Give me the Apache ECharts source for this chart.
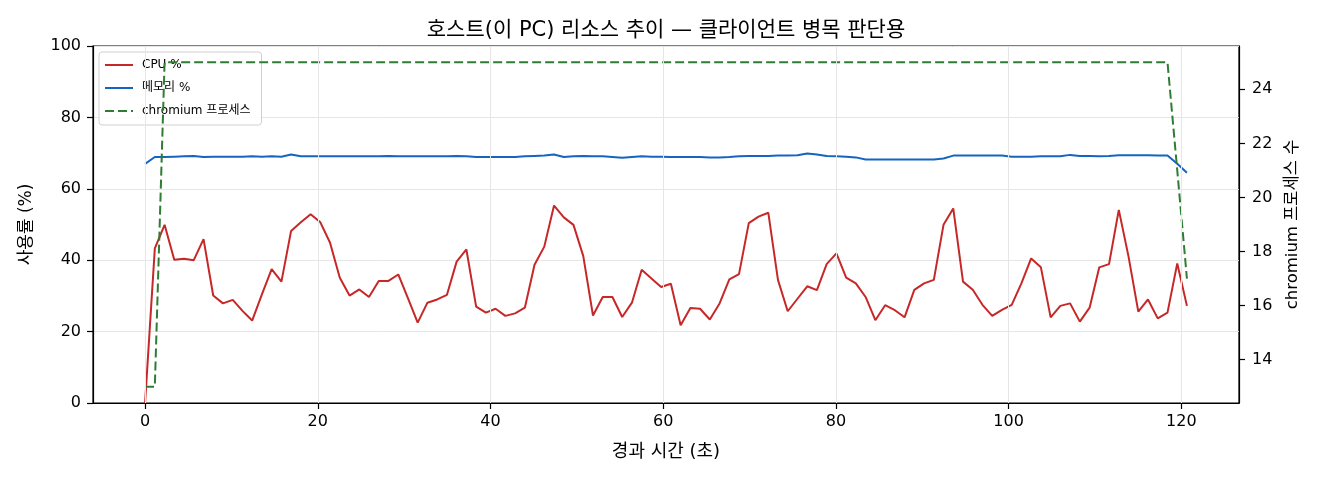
<!DOCTYPE html>
<html>
<head>
<meta charset="utf-8">
<script src="https://cdn.jsdelivr.net/npm/echarts@6/dist/echarts.min.js"></script>
<style>
html,body{margin:0;padding:0;background:#fff;}
#c{width:1320px;height:480px;}
</style>
</head>
<body>
<div id="c"></div>
<script>
// elapsed time (s)
const timeSec = [0, 1.13, 2.26, 3.38, 4.51, 5.64, 6.77, 7.89, 9.02, 10.15,
  11.28, 12.40, 13.53, 14.66, 15.79, 16.91, 18.04, 19.17, 20.30, 21.42,
  22.55, 23.68, 24.81, 25.93, 27.06, 28.19, 29.32, 30.45, 31.57, 32.70,
  33.83, 34.96, 36.08, 37.21, 38.34, 39.47, 40.59, 41.72, 42.85, 43.98,
  45.10, 46.23, 47.36, 48.49, 49.61, 50.74, 51.87, 53.00, 54.12, 55.25,
  56.38, 57.51, 58.64, 59.76, 60.89, 62.02, 63.15, 64.27, 65.40, 66.53,
  67.66, 68.78, 69.91, 71.04, 72.17, 73.29, 74.42, 75.55, 76.68, 77.80,
  78.93, 80.06, 81.19, 82.31, 83.44, 84.57, 85.70, 86.83, 87.95, 89.08,
  90.21, 91.34, 92.46, 93.59, 94.72, 95.85, 96.97, 98.10, 99.23, 100.36,
  101.48, 102.61, 103.74, 104.87, 105.99, 107.12, 108.25, 109.38, 110.50, 111.63,
  112.76, 113.89, 115.02, 116.14, 117.27, 118.40, 119.53, 120.65];

// CPU %
const cpuPct = [0, 43.3, 49.9, 40.1, 40.4, 40.0, 45.9, 30.1, 27.9, 28.9,
  25.8, 23.1, 30.4, 37.5, 34.0, 48.2, 50.6, 52.9, 50.6, 44.9,
  35.1, 30.1, 31.8, 29.7, 34.2, 34.2, 36.0, 29.3, 22.5, 28.1,
  29.0, 30.3, 39.6, 43.0, 27.0, 25.3, 26.4, 24.4, 25.1, 26.7,
  38.7, 43.8, 55.3, 52.0, 49.9, 41.2, 24.5, 29.7, 29.7, 24.1,
  28.1, 37.3, 34.9, 32.5, 33.4, 21.8, 26.6, 26.4, 23.4, 27.9,
  34.6, 36.1, 50.4, 52.2, 53.3, 34.5, 25.7, 29.2, 32.7, 31.6,
  38.9, 41.9, 35.1, 33.5, 29.7, 23.2, 27.4, 26.0, 24.0, 31.7,
  33.5, 34.5, 49.9, 54.5, 34.0, 31.7, 27.5, 24.4, 26.1, 27.5,
  33.5, 40.5, 38.0, 24.0, 27.2, 27.9, 22.8, 26.7, 38.0, 38.9,
  54.1, 41.0, 25.6, 29.0, 23.7, 25.3, 39.1, 27.2];

// memory %
const memPct = [67.0, 68.9, 68.9, 69.0, 69.1, 69.2, 68.9, 69.0, 69.0, 69.0,
  69.0, 69.1, 69.0, 69.1, 69.0, 69.6, 69.1, 69.1, 69.1, 69.1,
  69.1, 69.1, 69.1, 69.1, 69.1, 69.2, 69.1, 69.1, 69.1, 69.1,
  69.1, 69.1, 69.2, 69.1, 68.9, 68.9, 68.9, 68.9, 68.9, 69.1,
  69.2, 69.3, 69.6, 68.9, 69.1, 69.2, 69.1, 69.1, 68.9, 68.7,
  68.9, 69.1, 69.0, 69.0, 68.9, 68.9, 68.9, 68.9, 68.8, 68.8,
  68.9, 69.1, 69.2, 69.2, 69.2, 69.3, 69.3, 69.4, 69.9, 69.6,
  69.2, 69.1, 69.0, 68.8, 68.2, 68.2, 68.2, 68.2, 68.2, 68.2,
  68.2, 68.2, 68.5, 69.3, 69.3, 69.3, 69.3, 69.3, 69.3, 69.0,
  69.0, 69.0, 69.1, 69.1, 69.1, 69.5, 69.2, 69.2, 69.1, 69.2,
  69.4, 69.4, 69.4, 69.4, 69.3, 69.3, 67.0, 64.5];

// chromium process count
const procCount = [13, 13, 25, 25, 25, 25, 25, 25, 25, 25,
  25, 25, 25, 25, 25, 25, 25, 25, 25, 25,
  25, 25, 25, 25, 25, 25, 25, 25, 25, 25,
  25, 25, 25, 25, 25, 25, 25, 25, 25, 25,
  25, 25, 25, 25, 25, 25, 25, 25, 25, 25,
  25, 25, 25, 25, 25, 25, 25, 25, 25, 25,
  25, 25, 25, 25, 25, 25, 25, 25, 25, 25,
  25, 25, 25, 25, 25, 25, 25, 25, 25, 25,
  25, 25, 25, 25, 25, 25, 25, 25, 25, 25,
  25, 25, 25, 25, 25, 25, 25, 25, 25, 25,
  25, 25, 25, 25, 25, 25, 21, 17];

const xTicks = [0, 20, 40, 60, 80, 100, 120];
const yLeftTicks = [0, 20, 40, 60, 80, 100];
const yRightTicks = [14, 16, 18, 20, 22, 24];

const seriesNames = ['CPU %', '메모리 %', 'chromium 프로세스'];
const titleText = '호스트(이 PC) 리소스 추이 — 클라이언트 병목 판단용';
const xName = '경과 시간 (초)';
const yLeftName = '사용률 (%)';
const yRightName = 'chromium 프로세스 수';

const FF = "'DejaVu Sans', 'Noto Sans CJK KR', sans-serif";
const zip = (a, b) => a.map((v, i) => [v, b[i]]);

const chart = echarts.init(document.getElementById('c'), null, {renderer: 'canvas'});
chart.setOption({
  animation: false,
  backgroundColor: '#ffffff',
  textStyle: {fontFamily: FF},
  title: {
    text: titleText,
    left: 666, top: 20, padding: 0,
    textAlign: 'center',
    textStyle: {fontFamily: FF, fontSize: 21, fontWeight: 'normal', color: '#000'}
  },
  legend: {
    orient: 'vertical', left: 99, top: 52,
    itemWidth: 28, itemHeight: 14, itemGap: 11,
    padding: [7, 11, 8, 5],
    backgroundColor: 'rgba(255,255,255,0.85)',
    borderColor: '#d0d0d0', borderWidth: 1, borderRadius: 3,
    itemStyle: {opacity: 0},
    lineStyle: {width: 2},
    textStyle: {fontFamily: FF, fontSize: 12, color: '#000', padding: [0, 0, 0, 4]},
    data: seriesNames
  },
  grid: {
    left: 93, right: 81, top: 46, bottom: 77,
    show: true, borderColor: '#000', borderWidth: 1.2, backgroundColor: 'transparent'
  },
  xAxis: {
    type: 'value', min: -6.03, max: 126.68,
    name: xName, nameLocation: 'middle', nameGap: 40,
    nameTextStyle: {fontFamily: FF, fontSize: 18, color: '#000'},
    axisLine: {show: true, onZero: false, lineStyle: {color: '#000', width: 1.2}},
    axisTick: {show: true, inside: false, length: 6, customValues: xTicks, lineStyle: {color: '#000', width: 1.2}},
    axisLabel: {customValues: xTicks, margin: 11, fontFamily: FF, fontSize: 16, color: '#000'},
    splitLine: {show: false}
  },
  yAxis: [{
    type: 'value', min: 0, max: 100, interval: 20, position: 'left',
    name: yLeftName, nameLocation: 'middle', nameGap: 58,
    nameTextStyle: {fontFamily: FF, fontSize: 17, color: '#000'},
    axisLine: {show: true, onZero: false, lineStyle: {color: '#000', width: 1.2}},
    axisTick: {show: true, inside: false, length: 6, lineStyle: {color: '#000', width: 1.2}},
    axisLabel: {margin: 12, fontFamily: FF, fontSize: 16, color: '#000'},
    splitLine: {show: true, lineStyle: {color: '#e6e6e6', width: 1}}
  }, {
    type: 'value', min: 12.4, max: 25.6, position: 'right',
    name: yRightName, nameLocation: 'middle', nameGap: 45, nameRotate: 90,
    nameTextStyle: {fontFamily: FF, fontSize: 16.5, color: '#000'},
    axisLine: {show: true, onZero: false, lineStyle: {color: '#000', width: 1.2}},
    axisTick: {show: true, inside: false, length: 6, customValues: yRightTicks, lineStyle: {color: '#000', width: 1.2}},
    axisLabel: {customValues: yRightTicks, margin: 13, fontFamily: FF, fontSize: 16, color: '#000'},
    splitLine: {show: false}
  }],
  series: [{
    name: '_xgrid', type: 'line', data: [], silent: true, z: 0,
    markLine: {
      silent: true, symbol: ['none', 'none'], animation: false,
      label: {show: false},
      lineStyle: {color: '#e6e6e6', width: 1, type: 'solid'},
      emphasis: {disabled: true},
      data: xTicks.map(v => ({xAxis: v}))
    }
  }, {
    name: seriesNames[0], type: 'line', yAxisIndex: 0, z: 3,
    data: zip(timeSec, cpuPct), symbol: 'none', showSymbol: false,
    lineStyle: {color: '#c62828', width: 2}, itemStyle: {color: '#c62828'}
  }, {
    name: seriesNames[1], type: 'line', yAxisIndex: 0, z: 3,
    data: zip(timeSec, memPct), symbol: 'none', showSymbol: false,
    lineStyle: {color: '#1565c0', width: 2}, itemStyle: {color: '#1565c0'}
  }, {
    name: seriesNames[2], type: 'line', yAxisIndex: 1, z: 4,
    data: zip(timeSec, procCount), symbol: 'none', showSymbol: false,
    lineStyle: {color: '#2e7d32', width: 2, type: [9, 4]}, itemStyle: {color: '#2e7d32'}
  }]
});
</script>
</body>
</html>
